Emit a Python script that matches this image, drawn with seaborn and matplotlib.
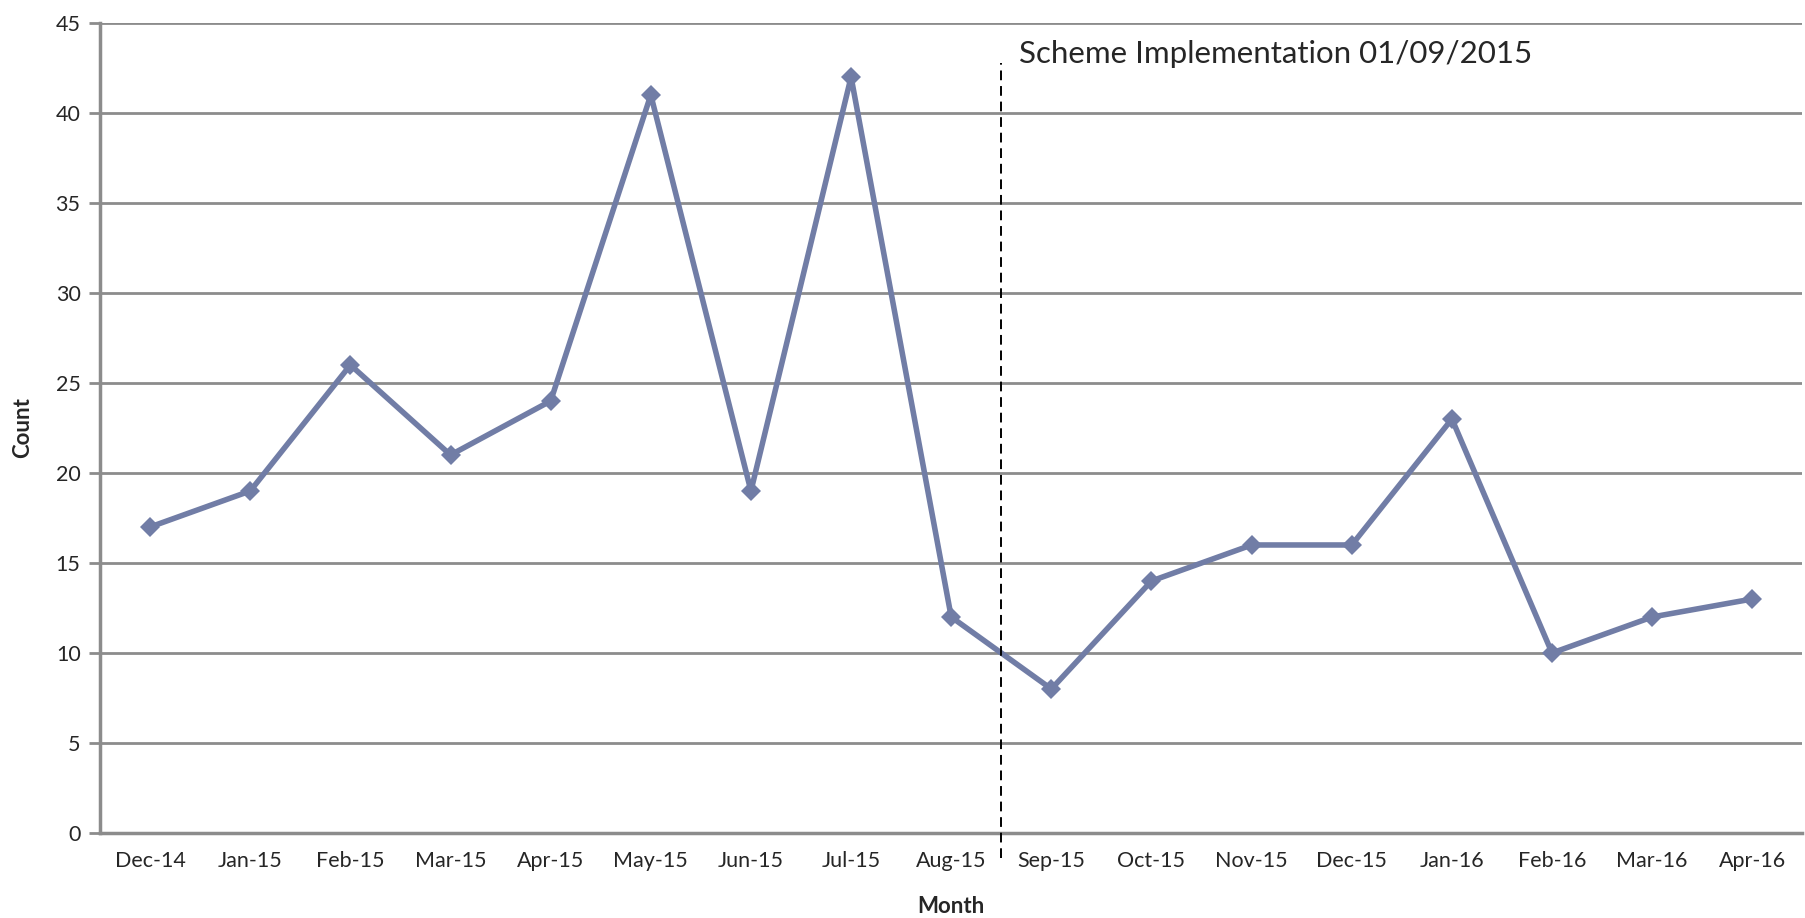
import pandas as pd
import seaborn as sns
import matplotlib.pyplot as plt
import numpy as np

# Monthly counts
months = ['Dec-14', 'Jan-15', 'Feb-15', 'Mar-15', 'Apr-15', 'May-15', 'Jun-15',
          'Jul-15', 'Aug-15', 'Sep-15', 'Oct-15', 'Nov-15', 'Dec-15', 'Jan-16',
          'Feb-16', 'Mar-16', 'Apr-16']
counts = [17, 19, 26, 21, 24, 41, 19, 42, 12, 8, 14, 16, 16, 23, 10, 12, 13]

scheme_label = 'Scheme Implementation 01/09/2015'
y_ticks = list(range(0, 50, 5))

df = pd.DataFrame({'Month': months, 'Count': counts})
df['pos'] = np.arange(len(df))

sns.set_style('white')
plt.rcParams['font.family'] = ['Lato', 'DejaVu Sans']

fig = plt.figure(figsize=(18.06, 9.18), dpi=100)
ax = fig.add_axes([0.0554, 0.0926, 0.9426, 0.8824])

grid_col = '#8c8c8c'
line_col = '#717da6'

for y in y_ticks[1:]:
    ax.axhline(y, color=grid_col, lw=2, zorder=1)

sns.lineplot(data=df, x='pos', y='Count', sort=False, color=line_col, lw=4,
             marker='D', markersize=10, markeredgewidth=0, ax=ax, zorder=3)

# scheme start sits between Aug-15 and Sep-15
cut = months.index('Sep-15') - 0.5
ax.plot([cut, cut], [-1.4, 42.8], color='black', lw=1.4, ls=(0, (5, 3)),
        clip_on=False, zorder=4)
ax.text(cut + 0.18, 43.3, scheme_label, fontsize=22.5, va='center', ha='left')

ax.set_xlim(-0.5, len(months) - 0.5)
ax.set_ylim(0, 45)
ax.set_yticks(y_ticks)
ax.set_xticks(df['pos'])
ax.set_xticklabels(months)
ax.set_xticks(np.arange(-0.5, len(months)), minor=True)
ax.tick_params(axis='x', which='major', length=0, pad=13, labelsize=15.5)
ax.tick_params(axis='x', which='minor', length=7, width=2, color=grid_col, direction='out')
ax.tick_params(axis='y', length=8, width=2, color=grid_col, direction='out', pad=6,
               labelsize=15.5, left=True)

for s in ['top', 'right']:
    ax.spines[s].set_visible(False)
for s in ['left', 'bottom']:
    ax.spines[s].set_color(grid_col)
    ax.spines[s].set_linewidth(2.5)

ax.set_xlabel('Month', fontsize=16, fontweight='bold', labelpad=18)
ax.set_ylabel('Count', fontsize=16, fontweight='bold', labelpad=16)

fig.savefig('out.png', dpi=100)
